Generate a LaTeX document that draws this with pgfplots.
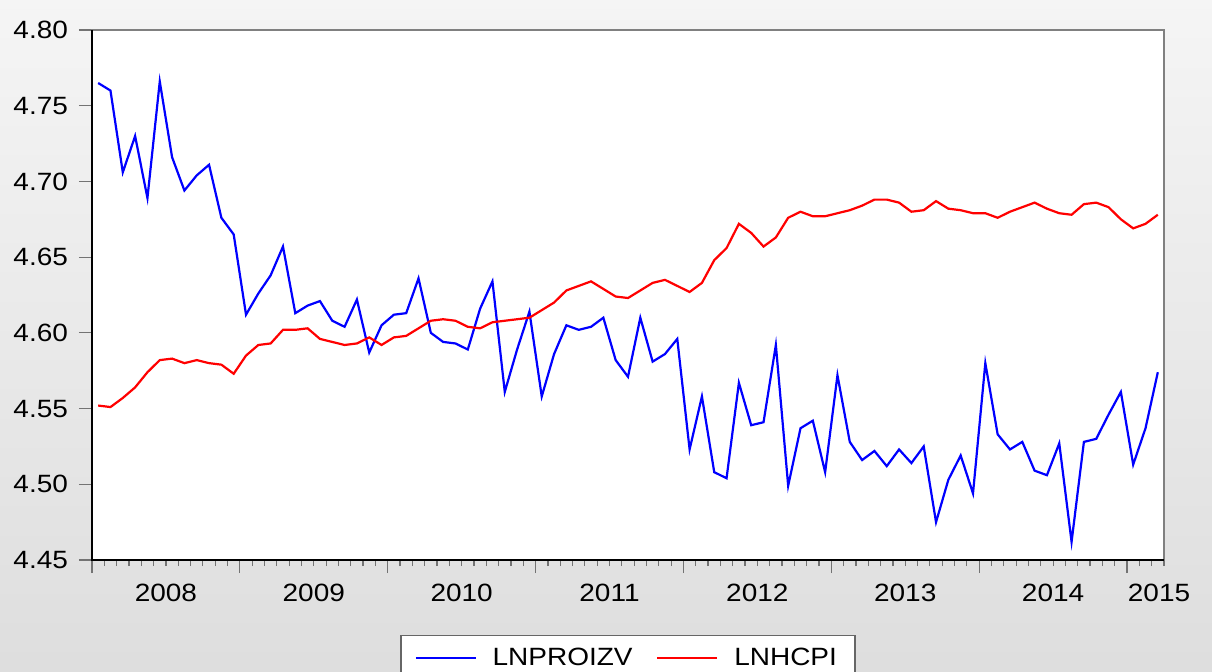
\documentclass[border=0pt]{standalone}
\usepackage{fontspec}
\setmainfont{Liberation Sans}[FakeStretch=1.12]
\usepackage{pgfplots}
\pgfplotsset{compat=1.18}
\usepackage{pgfplotstable}

\pgfplotstableread{
i p h
0 4.765 4.552
1 4.760 4.551
2 4.706 4.557
3 4.730 4.564
4 4.689 4.574
5 4.766 4.582
6 4.716 4.583
7 4.694 4.580
8 4.704 4.582
9 4.711 4.580
10 4.676 4.579
11 4.665 4.573
12 4.612 4.585
13 4.626 4.592
14 4.638 4.593
15 4.657 4.602
16 4.613 4.602
17 4.618 4.603
18 4.621 4.596
19 4.608 4.594
20 4.604 4.592
21 4.622 4.593
22 4.587 4.597
23 4.605 4.592
24 4.612 4.597
25 4.613 4.598
26 4.636 4.603
27 4.600 4.608
28 4.594 4.609
29 4.593 4.608
30 4.589 4.604
31 4.616 4.603
32 4.634 4.607
33 4.561 4.608
34 4.589 4.609
35 4.614 4.610
36 4.558 4.615
37 4.586 4.620
38 4.605 4.628
39 4.602 4.631
40 4.604 4.634
41 4.610 4.629
42 4.582 4.624
43 4.571 4.623
44 4.610 4.628
45 4.581 4.633
46 4.586 4.635
47 4.596 4.631
48 4.523 4.627
49 4.558 4.633
50 4.508 4.648
51 4.504 4.656
52 4.567 4.672
53 4.539 4.666
54 4.541 4.657
55 4.592 4.663
56 4.499 4.676
57 4.537 4.680
58 4.542 4.677
59 4.508 4.677
60 4.572 4.679
61 4.528 4.681
62 4.516 4.684
63 4.522 4.688
64 4.512 4.688
65 4.523 4.686
66 4.514 4.680
67 4.525 4.681
68 4.475 4.687
69 4.503 4.682
70 4.519 4.681
71 4.494 4.679
72 4.580 4.679
73 4.533 4.676
74 4.523 4.680
75 4.528 4.683
76 4.509 4.686
77 4.506 4.682
78 4.527 4.679
79 4.462 4.678
80 4.528 4.685
81 4.530 4.686
82 4.546 4.683
83 4.561 4.675
84 4.513 4.669
85 4.537 4.672
86 4.574 4.678
}\datatable

\begin{document}
\begin{tikzpicture}
\path[use as bounding box] (-46pt,-55.5pt) rectangle (560pt,280pt);
\shade[top color=black!4, bottom color=black!13] (-46pt,-55.5pt) rectangle (560pt,280pt);
\begin{axis}[
  at={(0,0)}, anchor=south west,
  scale only axis, width=536pt, height=265pt,
  clip=false,
  axis background/.style={fill=white},
  axis line style={draw=black!50, line width=0.8pt},
  xmin=0, xmax=87, ymin=4.45, ymax=4.80,
  xtick={0,12,24,36,48,60,72,84},
  xticklabels={},
  minor xtick={0,1,...,87},
  extra x ticks={6,18,30,42,54,66,78,86.6},
  extra x tick labels={2008,2009,2010,2011,2012,2013,2014,2015},
  extra x tick style={major tick length=0pt},
  ytick={4.45,4.50,4.55,4.60,4.65,4.70,4.75,4.80},
  yticklabel style={/pgf/number format/.cd, fixed, fixed zerofill, precision=2},
  /pgf/number format/assume math mode=true,
  tick align=outside,
  major tick length=6.5pt,
  minor tick length=3pt,
  tick style={draw=black!55, line width=0.6pt},
  xtick pos=bottom, ytick pos=left,
  tick label style={font=\fontsize{12.5}{15}\selectfont, text=black},
  xticklabel shift=8.5pt,
  yticklabel shift=2pt,
  legend style={at={(rel axis cs:0.5,0)}, anchor=north, yshift=-37.5pt,
    draw=black!60, fill=white, line width=0.6pt,
    font=\fontsize{12.5}{15}\selectfont,
    inner xsep=7pt, inner ysep=4pt,
    /tikz/every odd column/.append style={column sep=6pt},
    /tikz/every even column/.append style={column sep=10pt}},
  legend columns=2,
  legend image code/.code={\draw[#1, line width=0.8pt] (0pt,0pt) -- (30pt,0pt);},
]
\addplot[blue, line width=1.1pt] table[x expr=\thisrow{i}+0.5, y=p] {\datatable};
\addlegendentry{LNPROIZV}
\addplot[red, line width=1.1pt] table[x expr=\thisrow{i}+0.5, y=h] {\datatable};
\addlegendentry{LNHCPI}
\draw[black, line width=0.8pt] (rel axis cs:0,1) -- (rel axis cs:0,0) -- (rel axis cs:1,0);
\end{axis}
\end{tikzpicture}
\end{document}
